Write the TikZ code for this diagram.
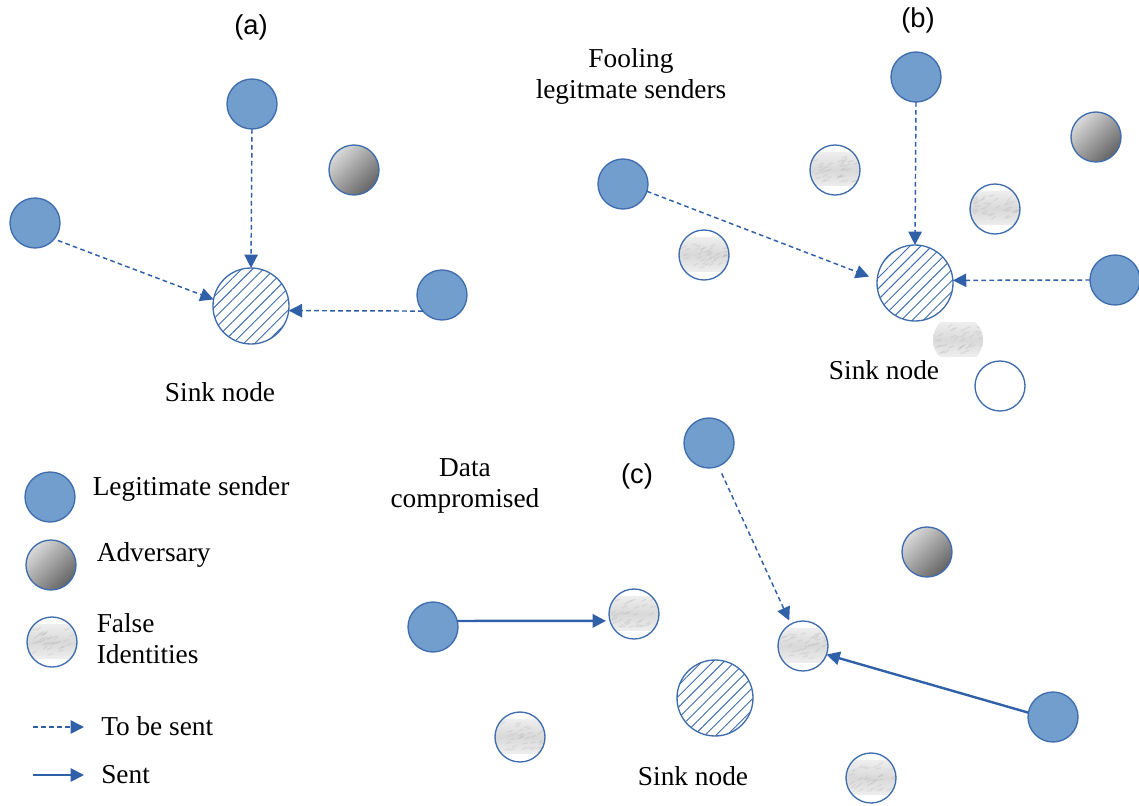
\documentclass[tikz,border=0pt]{standalone}
\usepackage{fontspec}
\setmainfont{Liberation Serif}
\newfontfamily\serifbody{Liberation Serif}
\newfontfamily\labelsans{Liberation Sans}
\usetikzlibrary{arrows.meta,patterns.meta,calc}

\definecolor{legitfill}{RGB}{114,158,206}
\definecolor{nodeedge}{RGB}{62,108,172}
\definecolor{arrowblue}{RGB}{48,96,168}
\definecolor{advlight}{RGB}{218,218,218}
\definecolor{advdark}{RGB}{100,100,100}

% mottled grey band used inside the false-identity circles
\newcommand\fakeidtexture{%
  \shade[top color=gray!7, bottom color=gray!5, middle color=gray!30]
    ([yshift=13pt]path picture bounding box.west) rectangle
    ([yshift=-12pt]path picture bounding box.east);
  \foreach \k in {1,...,34}{%
    \pgfmathsetmacro\dx{(rnd-0.5)*34}%
    \pgfmathsetmacro\dy{(rnd-0.5)*20}%
    \pgfmathsetmacro\ang{10+rnd*30}%
    \draw[gray!70, opacity=0.22, line width=0.9pt]
      ([xshift=\dx pt, yshift=\dy pt]path picture bounding box.center) -- ++(\ang:4pt);
  }%
}

\begin{document}
\begin{tikzpicture}[x=0.75pt, y=-0.75pt,
  base/.style={circle, inner sep=0pt, outer sep=0pt, minimum size=37.5pt, line width=1pt},
  legit/.style={base, draw=nodeedge, fill=legitfill},
  adversary/.style={base, draw=nodeedge, top color=advlight, bottom color=advdark, shading angle=45},
  falseid/.style={base, draw=nodeedge, fill=white, path picture={\fakeidtexture}},
  ghostid/.style={base, fill=white, path picture={\fakeidtexture}},
  emptyid/.style={base, draw=nodeedge, fill=white},
  sink/.style={circle, inner sep=0pt, outer sep=0pt, minimum size=57pt, line width=1pt,
    draw=nodeedge, pattern={Lines[angle=45, distance=5.8pt, line width=0.7pt]}, pattern color=nodeedge},
  tobesent/.style={draw=arrowblue, line width=1.1pt, dash pattern=on 3.5pt off 2.5pt,
    -{Triangle[length=10pt, width=10pt]}},
  sent/.style={draw=arrowblue, line width=1.8pt, -{Triangle[length=10pt, width=10pt]}},
  txt/.style={font=\serifbody\fontsize{20.5}{23}\selectfont, inner sep=0pt},
  lbl/.style={font=\labelsans\fontsize{20.5}{23}\selectfont, inner sep=0pt}
]
\pgfmathsetseed{11}
\useasboundingbox (0,0) rectangle (1139,806);

% ---------- (a) ----------
\node[lbl] (la) at (251,27) {(a)};
\node[legit] (a1) at (252,104) {};
\node[adversary] (a2) at (354,170) {};
\node[legit] (a3) at (35,223) {};
\node[sink] (as) at (251,306) {};
\node[legit] (a4) at (442,295) {};
\node[txt] (at) at (220,392) {Sink node};
\draw[tobesent] (a1.south) -- (as.north);
\draw[tobesent, shorten <=3pt] (a3.-40) -- (as.170);
\draw[tobesent] (a4.220) -- (as.-7.5);

% ---------- (b) ----------
\node[lbl] (lb) at (918,20) {(b)};
\node[txt, align=center] (tb) at (631,76.5) {Fooling\\legitmate senders};
\node[legit] (b1) at (916,77) {};
\node[adversary] (b2) at (1096,137) {};
\node[falseid] (b3) at (835,170) {};
\node[falseid] (b4) at (995,209) {};
\node[legit] (b5) at (623,184) {};
\node[falseid] (b6) at (704,255) {};
\node[sink] (bs) at (915,283) {};
\node[legit] (b7) at (1115,280) {};
\node[ghostid] (b8) at (958,340) {};
\node[emptyid] (b9) at (1000,386) {};
\node[txt] (bt) at (884,370) {Sink node};
\draw[tobesent] (b1.south) -- (bs.north);
\draw[tobesent, shorten >=6.5pt] (b5.-17) -- (bs.175);
\draw[tobesent] (b7.west) -- (bs.4.5);

% ---------- (c) ----------
\node[lbl] (lc) at (637,476) {(c)};
\node[txt, align=center] (tc) at (465,486) {Data\\compromised};
\node[legit] (c1) at (709,443) {};
\node[adversary] (c2) at (927,552) {};
\node[legit] (c3) at (433,627) {};
\node[falseid] (c4) at (634,614) {};
\node[falseid] (c5) at (803,646) {};
\node[sink] (cs) at (715,698) {};
\node[legit] (c6) at (1053,717) {};
\node[falseid] (c7) at (520,737) {};
\node[falseid] (c8) at (871,778) {};
\node[txt] (ct) at (693,776) {Sink node};
\draw[tobesent, shorten <=6pt, shorten >=3pt] (c1.-68) -- (c5.119);
\draw[sent, shorten >=3pt] (c3.14) -- (c4.196);
\draw[sent] (c6.170) -- (c5.-20);

% ---------- legend ----------
\node[legit] (k1) at (50,497) {};
\node[adversary] (k2) at (51,565) {};
\node[falseid] (k3) at (52,642) {};
\node[txt, anchor=base west] (k1t) at (92.5,495) {Legitimate sender};
\node[txt, anchor=base west] (k2t) at (96.5,561.5) {Adversary};
\node[txt, anchor=base west, align=left] (k3t) at (96.5,663.3) {False\\Identities};
\coordinate (k4a) at (33,727);
\coordinate (k4b) at (84,727);
\coordinate (k5a) at (33,775);
\coordinate (k5b) at (84,775);
\draw[tobesent] (k4a) -- (k4b);
\draw[sent, line width=1.2pt] (k5a) -- (k5b);
\node[txt, anchor=base west] (k4t) at (101,735) {To be sent};
\node[txt, anchor=base west] (k5t) at (101,783.3) {Sent};
\end{tikzpicture}
\end{document}
